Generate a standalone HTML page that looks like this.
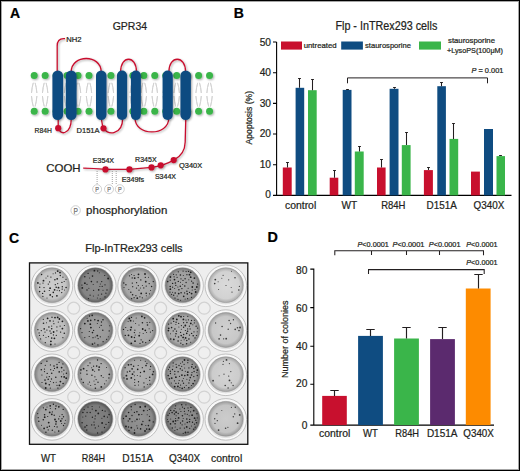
<!DOCTYPE html>
<html><head><meta charset="utf-8"><style>
html,body{margin:0;padding:0;background:#fff;}
body{width:520px;height:471px;overflow:hidden;}
svg{display:block;font-family:"Liberation Sans",sans-serif;}
text{stroke-width:0.22px;}
</style></head><body>
<svg width="520" height="471" viewBox="0 0 520 471">
<defs>
<filter id="sh" x="-20%" y="-20%" width="140%" height="140%"><feGaussianBlur in="SourceAlpha" stdDeviation="0.9"/><feOffset dx="0.6" dy="0.9" result="o"/><feComponentTransfer><feFuncA type="linear" slope="0.35"/></feComponentTransfer><feMerge><feMergeNode/><feMergeNode in="SourceGraphic"/></feMerge></filter>
<radialGradient id="dg00"><stop offset="0" stop-color="rgb(204,204,204)"/><stop offset="0.78" stop-color="rgb(196,196,196)"/><stop offset="1" stop-color="rgb(154,154,154)"/></radialGradient><radialGradient id="dg01"><stop offset="0" stop-color="rgb(140,140,140)"/><stop offset="0.78" stop-color="rgb(132,132,132)"/><stop offset="1" stop-color="rgb(90,90,90)"/></radialGradient><radialGradient id="dg02"><stop offset="0" stop-color="rgb(174,174,174)"/><stop offset="0.78" stop-color="rgb(166,166,166)"/><stop offset="1" stop-color="rgb(124,124,124)"/></radialGradient><radialGradient id="dg03"><stop offset="0" stop-color="rgb(166,166,166)"/><stop offset="0.78" stop-color="rgb(158,158,158)"/><stop offset="1" stop-color="rgb(116,116,116)"/></radialGradient><radialGradient id="dg04"><stop offset="0" stop-color="rgb(218,218,218)"/><stop offset="0.78" stop-color="rgb(210,210,210)"/><stop offset="1" stop-color="rgb(168,168,168)"/></radialGradient><radialGradient id="dg10"><stop offset="0" stop-color="rgb(196,196,196)"/><stop offset="0.78" stop-color="rgb(188,188,188)"/><stop offset="1" stop-color="rgb(146,146,146)"/></radialGradient><radialGradient id="dg11"><stop offset="0" stop-color="rgb(160,160,160)"/><stop offset="0.78" stop-color="rgb(152,152,152)"/><stop offset="1" stop-color="rgb(110,110,110)"/></radialGradient><radialGradient id="dg12"><stop offset="0" stop-color="rgb(174,174,174)"/><stop offset="0.78" stop-color="rgb(166,166,166)"/><stop offset="1" stop-color="rgb(124,124,124)"/></radialGradient><radialGradient id="dg13"><stop offset="0" stop-color="rgb(176,176,176)"/><stop offset="0.78" stop-color="rgb(168,168,168)"/><stop offset="1" stop-color="rgb(126,126,126)"/></radialGradient><radialGradient id="dg14"><stop offset="0" stop-color="rgb(208,208,208)"/><stop offset="0.78" stop-color="rgb(200,200,200)"/><stop offset="1" stop-color="rgb(158,158,158)"/></radialGradient><radialGradient id="dg20"><stop offset="0" stop-color="rgb(176,176,176)"/><stop offset="0.78" stop-color="rgb(168,168,168)"/><stop offset="1" stop-color="rgb(126,126,126)"/></radialGradient><radialGradient id="dg21"><stop offset="0" stop-color="rgb(178,178,178)"/><stop offset="0.78" stop-color="rgb(170,170,170)"/><stop offset="1" stop-color="rgb(128,128,128)"/></radialGradient><radialGradient id="dg22"><stop offset="0" stop-color="rgb(176,176,176)"/><stop offset="0.78" stop-color="rgb(168,168,168)"/><stop offset="1" stop-color="rgb(126,126,126)"/></radialGradient><radialGradient id="dg23"><stop offset="0" stop-color="rgb(162,162,162)"/><stop offset="0.78" stop-color="rgb(154,154,154)"/><stop offset="1" stop-color="rgb(112,112,112)"/></radialGradient><radialGradient id="dg24"><stop offset="0" stop-color="rgb(212,212,212)"/><stop offset="0.78" stop-color="rgb(204,204,204)"/><stop offset="1" stop-color="rgb(162,162,162)"/></radialGradient><radialGradient id="dg30"><stop offset="0" stop-color="rgb(168,168,168)"/><stop offset="0.78" stop-color="rgb(160,160,160)"/><stop offset="1" stop-color="rgb(118,118,118)"/></radialGradient><radialGradient id="dg31"><stop offset="0" stop-color="rgb(130,130,130)"/><stop offset="0.78" stop-color="rgb(122,122,122)"/><stop offset="1" stop-color="rgb(80,80,80)"/></radialGradient><radialGradient id="dg32"><stop offset="0" stop-color="rgb(146,146,146)"/><stop offset="0.78" stop-color="rgb(138,138,138)"/><stop offset="1" stop-color="rgb(96,96,96)"/></radialGradient><radialGradient id="dg33"><stop offset="0" stop-color="rgb(144,144,144)"/><stop offset="0.78" stop-color="rgb(136,136,136)"/><stop offset="1" stop-color="rgb(94,94,94)"/></radialGradient><radialGradient id="dg34"><stop offset="0" stop-color="rgb(204,204,204)"/><stop offset="0.78" stop-color="rgb(196,196,196)"/><stop offset="1" stop-color="rgb(154,154,154)"/></radialGradient><filter id="sh2" x="-50%" y="-20%" width="200%" height="140%"><feGaussianBlur in="SourceAlpha" stdDeviation="0.5"/><feOffset dx="0.4" dy="0.4"/><feComponentTransfer><feFuncA type="linear" slope="0.25"/></feComponentTransfer><feMerge><feMergeNode/><feMergeNode in="SourceGraphic"/></feMerge></filter><radialGradient id="wall"><stop offset="0.8" stop-color="#c8c8c8"/><stop offset="0.88" stop-color="#f4f4f4"/><stop offset="0.96" stop-color="#dcdcdc"/><stop offset="1" stop-color="#c0c0c0"/></radialGradient>
</defs>
<rect x="0" y="0" width="520" height="471" fill="#fff"/>
<text x="10.0" y="18.4" font-size="14" fill="#000" stroke="#000" stroke-width="0.5" font-weight="bold">A</text>
<text x="112.7" y="29.5" font-size="11.6" fill="#231f20" stroke="#231f20" stroke-width="0.13" textLength="34.4" lengthAdjust="spacingAndGlyphs">GPR34</text>
<g fill="none" stroke="#d2d2d2" stroke-width="1" filter="url(#sh2)"><path d="M33.30,82.8 Q32.00,87 31.50,93 M35.10,82.8 Q36.40,87 36.90,93 M31.50,96 Q32.00,102 33.30,106.5 M36.90,96 Q36.40,102 35.10,106.5"/><path d="M44.26,82.8 Q42.96,87 42.46,93 M46.06,82.8 Q47.36,87 47.86,93 M42.46,96 Q42.96,102 44.26,106.5 M47.86,96 Q47.36,102 46.06,106.5"/><path d="M55.22,82.8 Q53.92,87 53.42,93 M57.02,82.8 Q58.32,87 58.82,93 M53.42,96 Q53.92,102 55.22,106.5 M58.82,96 Q58.32,102 57.02,106.5"/><path d="M66.18,82.8 Q64.88,87 64.38,93 M67.98,82.8 Q69.28,87 69.78,93 M64.38,96 Q64.88,102 66.18,106.5 M69.78,96 Q69.28,102 67.98,106.5"/><path d="M77.14,82.8 Q75.84,87 75.34,93 M78.94,82.8 Q80.24,87 80.74,93 M75.34,96 Q75.84,102 77.14,106.5 M80.74,96 Q80.24,102 78.94,106.5"/><path d="M88.10,82.8 Q86.80,87 86.30,93 M89.90,82.8 Q91.20,87 91.70,93 M86.30,96 Q86.80,102 88.10,106.5 M91.70,96 Q91.20,102 89.90,106.5"/><path d="M99.06,82.8 Q97.76,87 97.26,93 M100.86,82.8 Q102.16,87 102.66,93 M97.26,96 Q97.76,102 99.06,106.5 M102.66,96 Q102.16,102 100.86,106.5"/><path d="M110.02,82.8 Q108.72,87 108.22,93 M111.82,82.8 Q113.12,87 113.62,93 M108.22,96 Q108.72,102 110.02,106.5 M113.62,96 Q113.12,102 111.82,106.5"/><path d="M120.98,82.8 Q119.68,87 119.18,93 M122.78,82.8 Q124.08,87 124.58,93 M119.18,96 Q119.68,102 120.98,106.5 M124.58,96 Q124.08,102 122.78,106.5"/><path d="M131.94,82.8 Q130.64,87 130.14,93 M133.74,82.8 Q135.04,87 135.54,93 M130.14,96 Q130.64,102 131.94,106.5 M135.54,96 Q135.04,102 133.74,106.5"/><path d="M142.90,82.8 Q141.60,87 141.10,93 M144.70,82.8 Q146.00,87 146.50,93 M141.10,96 Q141.60,102 142.90,106.5 M146.50,96 Q146.00,102 144.70,106.5"/><path d="M153.86,82.8 Q152.56,87 152.06,93 M155.66,82.8 Q156.96,87 157.46,93 M152.06,96 Q152.56,102 153.86,106.5 M157.46,96 Q156.96,102 155.66,106.5"/><path d="M164.82,82.8 Q163.52,87 163.02,93 M166.62,82.8 Q167.92,87 168.42,93 M163.02,96 Q163.52,102 164.82,106.5 M168.42,96 Q167.92,102 166.62,106.5"/><path d="M175.78,82.8 Q174.48,87 173.98,93 M177.58,82.8 Q178.88,87 179.38,93 M173.98,96 Q174.48,102 175.78,106.5 M179.38,96 Q178.88,102 177.58,106.5"/><path d="M186.74,82.8 Q185.44,87 184.94,93 M188.54,82.8 Q189.84,87 190.34,93 M184.94,96 Q185.44,102 186.74,106.5 M190.34,96 Q189.84,102 188.54,106.5"/><path d="M197.70,82.8 Q196.40,87 195.90,93 M199.50,82.8 Q200.80,87 201.30,93 M195.90,96 Q196.40,102 197.70,106.5 M201.30,96 Q200.80,102 199.50,106.5"/><path d="M208.66,82.8 Q207.36,87 206.86,93 M210.46,82.8 Q211.76,87 212.26,93 M206.86,96 Q207.36,102 208.66,106.5 M212.26,96 Q211.76,102 210.46,106.5"/></g>
<g fill="#3ab54a" filter="url(#sh)"><circle cx="34.20" cy="75.6" r="3.5"/><circle cx="34.20" cy="111.3" r="3.5"/><circle cx="45.16" cy="75.6" r="3.5"/><circle cx="45.16" cy="111.3" r="3.5"/><circle cx="56.12" cy="75.6" r="3.5"/><circle cx="56.12" cy="111.3" r="3.5"/><circle cx="67.08" cy="75.6" r="3.5"/><circle cx="67.08" cy="111.3" r="3.5"/><circle cx="78.04" cy="75.6" r="3.5"/><circle cx="78.04" cy="111.3" r="3.5"/><circle cx="89.00" cy="75.6" r="3.5"/><circle cx="89.00" cy="111.3" r="3.5"/><circle cx="99.96" cy="75.6" r="3.5"/><circle cx="99.96" cy="111.3" r="3.5"/><circle cx="110.92" cy="75.6" r="3.5"/><circle cx="110.92" cy="111.3" r="3.5"/><circle cx="121.88" cy="75.6" r="3.5"/><circle cx="121.88" cy="111.3" r="3.5"/><circle cx="132.84" cy="75.6" r="3.5"/><circle cx="132.84" cy="111.3" r="3.5"/><circle cx="143.80" cy="75.6" r="3.5"/><circle cx="143.80" cy="111.3" r="3.5"/><circle cx="154.76" cy="75.6" r="3.5"/><circle cx="154.76" cy="111.3" r="3.5"/><circle cx="165.72" cy="75.6" r="3.5"/><circle cx="165.72" cy="111.3" r="3.5"/><circle cx="176.68" cy="75.6" r="3.5"/><circle cx="176.68" cy="111.3" r="3.5"/><circle cx="187.64" cy="75.6" r="3.5"/><circle cx="187.64" cy="111.3" r="3.5"/><circle cx="198.60" cy="75.6" r="3.5"/><circle cx="198.60" cy="111.3" r="3.5"/><circle cx="209.56" cy="75.6" r="3.5"/><circle cx="209.56" cy="111.3" r="3.5"/></g>
<g fill="none" stroke="#c8102e" stroke-width="1.3" filter="url(#sh)"><path d="M57.2,72 L57.2,46 Q57.2,38.6 63.6,38.6 L65,38.6"/><path d="M71.2,72 C71.2,54 101.2,54 101.2,72"/><path d="M120.6,72 C120.6,55 136.5,55 136.5,72"/><path d="M168.9,72 C168.9,55 185.6,55 185.6,72"/><path d="M58.2,118 L58.2,126 C58.2,136 71.3,136 71.3,118"/><path d="M101.2,118 L102.8,127 C106,136 122.7,136 122.7,118"/><path d="M135,118 C135,136.5 168.8,136.5 168.8,118"/><path d="M185.8,118 L185.2,142 C185,152 180,157 173.7,160.1 C166,164.5 158,166.6 151.5,167.4 L129.4,169.4 L105.4,169.4 C98,168.8 90,168.3 83.2,168.2"/></g>
<g fill="#0f4c81" filter="url(#sh)"><rect x="52.4" y="70.5" width="10.70" height="49.6" rx="5.35"/><rect x="65.8" y="70.5" width="10.80" height="49.6" rx="5.40"/><rect x="96" y="70.5" width="10.50" height="49.6" rx="5.25"/><rect x="116.9" y="70.5" width="10.20" height="49.6" rx="5.10"/><rect x="130.9" y="70.5" width="10.00" height="49.6" rx="5.00"/><rect x="162.6" y="70.5" width="10.20" height="49.6" rx="5.10"/><rect x="180.4" y="70.5" width="10.50" height="49.6" rx="5.25"/></g>
<g fill="#c8102e" filter="url(#sh)"><circle cx="58.2" cy="128.2" r="3.1"/><circle cx="103.5" cy="128.3" r="3.1"/><circle cx="105.4" cy="169.4" r="3.1"/><circle cx="129.4" cy="169.4" r="3.1"/><circle cx="151.5" cy="167.4" r="3.1"/><circle cx="160.7" cy="165.3" r="3.1"/><circle cx="173.7" cy="160.1" r="3.1"/></g>
<text x="66.2" y="41.5" font-size="7.3" fill="#231f20" stroke="#231f20" stroke-width="0.04" textLength="15.3" lengthAdjust="spacingAndGlyphs">NH2</text>
<text x="34.6" y="132.7" font-size="7.9" fill="#231f20" stroke="#231f20" stroke-width="0.04" textLength="17.3" lengthAdjust="spacingAndGlyphs">R84H</text>
<text x="76.5" y="132.7" font-size="7.9" fill="#231f20" stroke="#231f20" stroke-width="0.04" textLength="23.1" lengthAdjust="spacingAndGlyphs">D151A</text>
<text x="46.3" y="172.2" font-size="11" fill="#231f20" stroke="#231f20" stroke-width="0.13" textLength="34.3" lengthAdjust="spacingAndGlyphs">COOH</text>
<text x="92.8" y="163.2" font-size="7" fill="#231f20" stroke="#231f20" stroke-width="0.04" textLength="21.3" lengthAdjust="spacingAndGlyphs">E354X</text>
<text x="121.7" y="182.1" font-size="7" fill="#231f20" stroke="#231f20" stroke-width="0.04" textLength="22.4" lengthAdjust="spacingAndGlyphs">E349fs</text>
<text x="135.1" y="161.6" font-size="7" fill="#231f20" stroke="#231f20" stroke-width="0.04" textLength="21.5" lengthAdjust="spacingAndGlyphs">R345X</text>
<text x="154.9" y="178.7" font-size="7" fill="#231f20" stroke="#231f20" stroke-width="0.04" textLength="21.1" lengthAdjust="spacingAndGlyphs">S344X</text>
<text x="179.1" y="167.9" font-size="7" fill="#231f20" stroke="#231f20" stroke-width="0.04" textLength="23.1" lengthAdjust="spacingAndGlyphs">Q340X</text>
<line x1="97.1" y1="171" x2="97.1" y2="184" stroke="#8a8a8a" stroke-width="0.8" stroke-dasharray="1,1"/>
<line x1="112.3" y1="171" x2="112.3" y2="184" stroke="#8a8a8a" stroke-width="0.8" stroke-dasharray="1,1"/>
<line x1="116.2" y1="171" x2="116.2" y2="184" stroke="#8a8a8a" stroke-width="0.8" stroke-dasharray="1,1"/>
<circle cx="97.1" cy="189.2" r="4.5" fill="#fff" stroke="#cccccc" stroke-width="0.9"/>
<text x="95.3" y="191.9" font-size="7.2" fill="#6e6e6e" stroke="#6e6e6e" stroke-width="0.05" textLength="3.7" lengthAdjust="spacingAndGlyphs">P</text>
<circle cx="109" cy="189.2" r="4.5" fill="#fff" stroke="#cccccc" stroke-width="0.9"/>
<text x="107.2" y="191.9" font-size="7.2" fill="#6e6e6e" stroke="#6e6e6e" stroke-width="0.05" textLength="3.7" lengthAdjust="spacingAndGlyphs">P</text>
<circle cx="119.8" cy="189.2" r="4.5" fill="#fff" stroke="#cccccc" stroke-width="0.9"/>
<text x="118.0" y="191.9" font-size="7.2" fill="#6e6e6e" stroke="#6e6e6e" stroke-width="0.05" textLength="3.7" lengthAdjust="spacingAndGlyphs">P</text>
<circle cx="75.6" cy="210.4" r="4.7" fill="#fff" stroke="#cfcfcf" stroke-width="1"/>
<text x="73.4" y="213.7" font-size="8.4" fill="#6e6e6e" stroke="#6e6e6e" stroke-width="0.05" textLength="4.4" lengthAdjust="spacingAndGlyphs">P</text>
<text x="86.1" y="213.8" font-size="11.2" fill="#231f20" stroke="#231f20" stroke-width="0.13" textLength="81.2" lengthAdjust="spacingAndGlyphs">phosphorylation</text>
<text x="233.8" y="18.1" font-size="14" fill="#000" stroke="#000" stroke-width="0.5" font-weight="bold">B</text>
<text x="335.4" y="30" font-size="12" fill="#231f20" stroke="#231f20" stroke-width="0.13" textLength="101.9" lengthAdjust="spacingAndGlyphs">Flp - InTRex293 cells</text>
<rect x="281" y="41.5" width="21" height="8.1" fill="#c8102e"/>
<text x="303.7" y="47.8" font-size="7.6" fill="#231f20" stroke="#231f20" stroke-width="0.04" textLength="33.0" lengthAdjust="spacingAndGlyphs">untreated</text>
<rect x="341.2" y="41.5" width="21.7" height="8.1" fill="#0f4c81"/>
<text x="365" y="47.8" font-size="7.6" fill="#231f20" stroke="#231f20" stroke-width="0.04" textLength="46" lengthAdjust="spacingAndGlyphs">staurosporine</text>
<rect x="419" y="41.5" width="22" height="8.1" fill="#3ab54a"/>
<text x="448" y="43.4" font-size="7.6" fill="#231f20" stroke="#231f20" stroke-width="0.04" textLength="47" lengthAdjust="spacingAndGlyphs">staurosporine</text>
<text x="447" y="52.6" font-size="7.6" fill="#231f20" stroke="#231f20" stroke-width="0.04" textLength="56" lengthAdjust="spacingAndGlyphs">+LysoPS(100μM)</text>
<path d="M276.6,42 L276.6,195.4 L511.5,195.4 M273,195.40 L276.6,195.40 M273,164.72 L276.6,164.72 M273,134.04 L276.6,134.04 M273,103.36 L276.6,103.36 M273,72.68 L276.6,72.68 M273,42.00 L276.6,42.00" fill="none" stroke="#000" stroke-width="1.1"/>
<text x="271.0" y="198.2" font-size="10.2" fill="#231f20" stroke="#231f20" stroke-width="0.13" text-anchor="end">0</text>
<text x="271.0" y="167.7" font-size="10.2" fill="#231f20" stroke="#231f20" stroke-width="0.13" text-anchor="end">10</text>
<text x="271.0" y="137.4" font-size="10.2" fill="#231f20" stroke="#231f20" stroke-width="0.13" text-anchor="end">20</text>
<text x="271.0" y="106.9" font-size="10.2" fill="#231f20" stroke="#231f20" stroke-width="0.13" text-anchor="end">30</text>
<text x="271.0" y="76.3" font-size="10.2" fill="#231f20" stroke="#231f20" stroke-width="0.13" text-anchor="end">40</text>
<text x="271.0" y="45.6" font-size="10.2" fill="#231f20" stroke="#231f20" stroke-width="0.13" text-anchor="end">50</text>
<text transform="translate(251.6,117.7) rotate(-90)" x="0" y="0" font-size="9.6" fill="#231f20" stroke="#231f20" stroke-width="0.12" text-anchor="middle" textLength="53.4" lengthAdjust="spacingAndGlyphs">Apoptosis (%)</text>
<rect x="282.8" y="167.5" width="8.90" height="27.90" fill="#c8102e"/>
<path d="M287.50,167.5 L287.50,162.5 M286.10,162.5 L288.90,162.5" stroke="#231f20" stroke-width="1.05" fill="none"/>
<rect x="295.6" y="87.8" width="8.60" height="107.60" fill="#0f4c81"/>
<path d="M299.50,87.8 L299.50,78.5 M298.10,78.5 L300.90,78.5" stroke="#231f20" stroke-width="1.05" fill="none"/>
<rect x="308" y="90.2" width="8.70" height="105.20" fill="#3ab54a"/>
<path d="M312.50,90.2 L312.50,79.5 M311.10,79.5 L313.90,79.5" stroke="#231f20" stroke-width="1.05" fill="none"/>
<rect x="329.7" y="177.7" width="8.60" height="17.70" fill="#c8102e"/>
<path d="M334.50,177.7 L334.50,170.5 M333.10,170.5 L335.90,170.5" stroke="#231f20" stroke-width="1.05" fill="none"/>
<rect x="342.7" y="89.9" width="8.80" height="105.50" fill="#0f4c81"/>
<path d="M347.50,89.9 L347.50,89.5 M346.10,89.5 L348.90,89.5" stroke="#231f20" stroke-width="1.05" fill="none"/>
<rect x="354.8" y="151.5" width="8.90" height="43.90" fill="#3ab54a"/>
<path d="M359.50,151.5 L359.50,146.5 M358.10,146.5 L360.90,146.5" stroke="#231f20" stroke-width="1.05" fill="none"/>
<rect x="377" y="167.5" width="8.60" height="27.90" fill="#c8102e"/>
<path d="M381.50,167.5 L381.50,159.5 M380.10,159.5 L382.90,159.5" stroke="#231f20" stroke-width="1.05" fill="none"/>
<rect x="389.6" y="88.8" width="8.90" height="106.60" fill="#0f4c81"/>
<path d="M394.50,88.8 L394.50,87.5 M393.10,87.5 L395.90,87.5" stroke="#231f20" stroke-width="1.05" fill="none"/>
<rect x="401.8" y="145.1" width="8.80" height="50.30" fill="#3ab54a"/>
<path d="M406.50,145.1 L406.50,132.5 M405.10,132.5 L407.90,132.5" stroke="#231f20" stroke-width="1.05" fill="none"/>
<rect x="423.9" y="170.1" width="9.00" height="25.30" fill="#c8102e"/>
<path d="M428.50,170.1 L428.50,167.5 M427.10,167.5 L429.90,167.5" stroke="#231f20" stroke-width="1.05" fill="none"/>
<rect x="437.3" y="86.2" width="8.60" height="109.20" fill="#0f4c81"/>
<path d="M441.50,86.2 L441.50,82.5 M440.10,82.5 L442.90,82.5" stroke="#231f20" stroke-width="1.05" fill="none"/>
<rect x="449.5" y="138.9" width="8.70" height="56.50" fill="#3ab54a"/>
<path d="M453.50,138.9 L453.50,123.5 M452.10,123.5 L454.90,123.5" stroke="#231f20" stroke-width="1.05" fill="none"/>
<rect x="471" y="171.6" width="8.90" height="23.80" fill="#c8102e"/>
<rect x="484" y="129" width="9.00" height="66.40" fill="#0f4c81"/>
<rect x="496.5" y="156.1" width="8.50" height="39.30" fill="#3ab54a"/>
<path d="M500.50,156.1 L500.50,155.5 M499.10,155.5 L501.90,155.5" stroke="#231f20" stroke-width="1.05" fill="none"/>
<path d="M347.5,83.3 L347.5,77.9 L487.5,77.9 L487.5,83.3" fill="none" stroke="#231f20" stroke-width="1"/>
<text x="471.5" y="72.5" font-size="7.2" fill="#231f20" stroke="#231f20" stroke-width="0.04" textLength="31.9" lengthAdjust="spacingAndGlyphs"><tspan font-style="italic">P</tspan> = 0.001</text>
<text x="285" y="209.4" font-size="10.2" fill="#231f20" stroke="#231f20" stroke-width="0.13" textLength="31.2" lengthAdjust="spacingAndGlyphs">control</text>
<text x="341.5" y="209.4" font-size="10.2" fill="#231f20" stroke="#231f20" stroke-width="0.13" textLength="15.7" lengthAdjust="spacingAndGlyphs">WT</text>
<text x="381.2" y="209.4" font-size="10.2" fill="#231f20" stroke="#231f20" stroke-width="0.13" textLength="24.3" lengthAdjust="spacingAndGlyphs">R84H</text>
<text x="426.6" y="209.4" font-size="10.2" fill="#231f20" stroke="#231f20" stroke-width="0.13" textLength="30.3" lengthAdjust="spacingAndGlyphs">D151A</text>
<text x="473.5" y="209.4" font-size="10.2" fill="#231f20" stroke="#231f20" stroke-width="0.13" textLength="30.8" lengthAdjust="spacingAndGlyphs">Q340X</text>
<text x="8.9" y="242.6" font-size="14" fill="#000" stroke="#000" stroke-width="0.5" font-weight="bold">C</text>
<text x="85.3" y="252.4" font-size="10.5" fill="#231f20" stroke="#231f20" stroke-width="0.13" textLength="97.3" lengthAdjust="spacingAndGlyphs">Flp-InTRex293 cells</text>
<text x="41" y="462.0" font-size="10.2" fill="#231f20" stroke="#231f20" stroke-width="0.13" textLength="15" lengthAdjust="spacingAndGlyphs">WT</text>
<text x="81.8" y="462.0" font-size="10.2" fill="#231f20" stroke="#231f20" stroke-width="0.13" textLength="23.3" lengthAdjust="spacingAndGlyphs">R84H</text>
<text x="122.3" y="462.0" font-size="10.2" fill="#231f20" stroke="#231f20" stroke-width="0.13" textLength="31.1" lengthAdjust="spacingAndGlyphs">D151A</text>
<text x="169" y="462.0" font-size="10.2" fill="#231f20" stroke="#231f20" stroke-width="0.13" textLength="31.2" lengthAdjust="spacingAndGlyphs">Q340X</text>
<text x="211" y="462.0" font-size="10.2" fill="#231f20" stroke="#231f20" stroke-width="0.13" textLength="31.2" lengthAdjust="spacingAndGlyphs">control</text>
<text x="267.6" y="242.3" font-size="14.4" fill="#000" stroke="#000" stroke-width="0.5" font-weight="bold">D</text>
<path d="M313.8,268.6 L313.8,425.1 L494,425.1 M310.3,425.10 L313.8,425.10 M310.3,384.30 L313.8,384.30 M310.3,346.20 L313.8,346.20 M310.3,307.60 L313.8,307.60 M310.3,269.10 L313.8,269.10" fill="none" stroke="#000" stroke-width="1.1"/>
<text x="307.4" y="429.0" font-size="10.2" fill="#231f20" stroke="#231f20" stroke-width="0.13" text-anchor="end">0</text>
<text x="307.4" y="387.3" font-size="10.2" fill="#231f20" stroke="#231f20" stroke-width="0.13" text-anchor="end">20</text>
<text x="307.4" y="349.6" font-size="10.2" fill="#231f20" stroke="#231f20" stroke-width="0.13" text-anchor="end">40</text>
<text x="307.4" y="312.0" font-size="10.2" fill="#231f20" stroke="#231f20" stroke-width="0.13" text-anchor="end">60</text>
<text x="307.4" y="274.0" font-size="10.2" fill="#231f20" stroke="#231f20" stroke-width="0.13" text-anchor="end">80</text>
<text transform="translate(287.6,339.3) rotate(-90)" x="0" y="0" font-size="9.4" fill="#231f20" stroke="#231f20" stroke-width="0.12" text-anchor="middle" textLength="77.5" lengthAdjust="spacingAndGlyphs">Number of colonies</text>
<rect x="322.2" y="395.9" width="24.60" height="29.20" fill="#c8102e"/>
<path d="M334.50,395.9 L334.50,390.5 M330.30,390.5 L338.70,390.5" stroke="#231f20" stroke-width="1.15" fill="none"/>
<rect x="358.1" y="335.9" width="24.80" height="89.20" fill="#0f4c81"/>
<path d="M370.50,335.9 L370.50,329.5 M366.30,329.5 L374.70,329.5" stroke="#231f20" stroke-width="1.15" fill="none"/>
<rect x="394.1" y="338.5" width="24.80" height="86.60" fill="#3ab54a"/>
<path d="M406.50,338.5 L406.50,327.5 M402.30,327.5 L410.70,327.5" stroke="#231f20" stroke-width="1.15" fill="none"/>
<rect x="430.1" y="339.1" width="24.80" height="86.00" fill="#5b2a6e"/>
<path d="M442.50,339.1 L442.50,327.5 M438.30,327.5 L446.70,327.5" stroke="#231f20" stroke-width="1.15" fill="none"/>
<rect x="465.8" y="288.5" width="24.80" height="136.60" fill="#fd8b00"/>
<path d="M478.50,288.5 L478.50,274.5 M474.30,274.5 L482.70,274.5" stroke="#231f20" stroke-width="1.15" fill="none"/>
<path d="M334.8,255.3 L334.8,250.7 L483.5,250.7 L483.5,255.3 M371.5,250.7 L371.5,255 M406.5,250.7 L406.5,255 M439.5,250.7 L439.5,255" fill="none" stroke="#231f20" stroke-width="1.05"/>
<path d="M368.5,274 L368.5,269.6 L484.2,269.6 L484.2,274" fill="none" stroke="#231f20" stroke-width="1.05"/>
<text x="357.5" y="247" font-size="7.2" fill="#231f20" stroke="#231f20" stroke-width="0.04" textLength="31.3" lengthAdjust="spacingAndGlyphs"><tspan font-style="italic">P</tspan>&lt;0.0001</text>
<text x="392.5" y="247" font-size="7.2" fill="#231f20" stroke="#231f20" stroke-width="0.04" textLength="32.0" lengthAdjust="spacingAndGlyphs"><tspan font-style="italic">P</tspan>&lt;0.0001</text>
<text x="428.8" y="247" font-size="7.2" fill="#231f20" stroke="#231f20" stroke-width="0.04" textLength="31.7" lengthAdjust="spacingAndGlyphs"><tspan font-style="italic">P</tspan>&lt;0.0001</text>
<text x="466.3" y="247" font-size="7.2" fill="#231f20" stroke="#231f20" stroke-width="0.04" textLength="31.2" lengthAdjust="spacingAndGlyphs"><tspan font-style="italic">P</tspan>&lt;0.0001</text>
<text x="466.3" y="264.5" font-size="7.2" fill="#231f20" stroke="#231f20" stroke-width="0.04" textLength="31.2" lengthAdjust="spacingAndGlyphs"><tspan font-style="italic">P</tspan>&lt;0.0001</text>
<text x="319" y="437.1" font-size="10.2" fill="#231f20" stroke="#231f20" stroke-width="0.13" textLength="31.3" lengthAdjust="spacingAndGlyphs">control</text>
<text x="362.9" y="437.1" font-size="10.2" fill="#231f20" stroke="#231f20" stroke-width="0.13" textLength="14.9" lengthAdjust="spacingAndGlyphs">WT</text>
<text x="395.3" y="437.1" font-size="10.2" fill="#231f20" stroke="#231f20" stroke-width="0.13" textLength="23.8" lengthAdjust="spacingAndGlyphs">R84H</text>
<text x="426.9" y="437.1" font-size="10.2" fill="#231f20" stroke="#231f20" stroke-width="0.13" textLength="30.6" lengthAdjust="spacingAndGlyphs">D151A</text>
<text x="463.3" y="437.1" font-size="10.2" fill="#231f20" stroke="#231f20" stroke-width="0.13" textLength="30.6" lengthAdjust="spacingAndGlyphs">Q340X</text>
<g><rect x="29.5" y="262.9" width="218.3" height="181.4" fill="#eeeeee" stroke="#111" stroke-width="1.3"/><circle cx="73.7" cy="308.2" r="6" fill="#efefef" stroke="#d2d2d2" stroke-width="1.2"/><circle cx="116.9" cy="308.2" r="6" fill="#efefef" stroke="#d2d2d2" stroke-width="1.2"/><circle cx="160.6" cy="308.2" r="6" fill="#efefef" stroke="#d2d2d2" stroke-width="1.2"/><circle cx="204.2" cy="308.2" r="6" fill="#efefef" stroke="#d2d2d2" stroke-width="1.2"/><circle cx="73.7" cy="352.7" r="6" fill="#efefef" stroke="#d2d2d2" stroke-width="1.2"/><circle cx="116.9" cy="352.7" r="6" fill="#efefef" stroke="#d2d2d2" stroke-width="1.2"/><circle cx="160.6" cy="352.7" r="6" fill="#efefef" stroke="#d2d2d2" stroke-width="1.2"/><circle cx="204.2" cy="352.7" r="6" fill="#efefef" stroke="#d2d2d2" stroke-width="1.2"/><circle cx="73.7" cy="397.1" r="6" fill="#efefef" stroke="#d2d2d2" stroke-width="1.2"/><circle cx="116.9" cy="397.1" r="6" fill="#efefef" stroke="#d2d2d2" stroke-width="1.2"/><circle cx="160.6" cy="397.1" r="6" fill="#efefef" stroke="#d2d2d2" stroke-width="1.2"/><circle cx="204.2" cy="397.1" r="6" fill="#efefef" stroke="#d2d2d2" stroke-width="1.2"/><circle cx="52.0" cy="285.8" r="20.8" fill="#f8f8f8" stroke="#b4b4b4" stroke-width="0.8"/><circle cx="52.0" cy="286.1" r="18.9" fill="#e2e2e2" stroke="#fcfcfc" stroke-width="0.8"/><circle cx="52.0" cy="285.2" r="17.4" fill="url(#dg00)" stroke="#8c8c8c" stroke-width="0.5"/><g fill="#1e1e1e"><circle cx="49.3" cy="290.5" r="0.6"/><circle cx="49.6" cy="281.9" r="0.65"/><circle cx="43.0" cy="283.1" r="0.6"/><circle cx="62.2" cy="289.1" r="0.7"/><circle cx="56.2" cy="287.2" r="0.8"/><circle cx="39.6" cy="291.6" r="0.8"/><circle cx="57.1" cy="290.3" r="0.5"/><circle cx="41.6" cy="274.5" r="0.7"/><circle cx="43.5" cy="280.7" r="0.9"/><circle cx="55.3" cy="284.7" r="0.65"/><circle cx="57.2" cy="278.8" r="0.9"/><circle cx="47.0" cy="298.1" r="0.5"/><circle cx="56.9" cy="295.8" r="0.9"/><circle cx="46.0" cy="278.0" r="0.5"/><circle cx="48.3" cy="284.1" r="0.7"/><circle cx="58.5" cy="287.7" r="0.9"/><circle cx="47.8" cy="276.1" r="0.6"/><circle cx="44.0" cy="287.6" r="0.7"/><circle cx="55.5" cy="272.9" r="0.6"/><circle cx="52.4" cy="296.8" r="0.7"/><circle cx="37.9" cy="282.9" r="0.9"/><circle cx="50.9" cy="277.1" r="0.65"/><circle cx="53.1" cy="273.7" r="0.5"/><circle cx="60.0" cy="272.6" r="0.9"/><circle cx="39.7" cy="287.2" r="0.7"/><circle cx="42.6" cy="293.4" r="0.7"/><circle cx="62.3" cy="286.7" r="0.7"/><circle cx="54.6" cy="289.8" r="0.9"/><circle cx="64.5" cy="290.1" r="0.5"/><circle cx="50.2" cy="294.9" r="0.9"/><circle cx="42.9" cy="296.4" r="0.6"/><circle cx="57.7" cy="283.6" r="0.6"/><circle cx="64.2" cy="281.5" r="0.6"/><circle cx="40.0" cy="284.0" r="0.5"/><circle cx="62.9" cy="277.2" r="0.6"/><circle cx="44.5" cy="291.2" r="0.8"/><circle cx="61.7" cy="292.6" r="0.7"/><circle cx="50.1" cy="288.2" r="0.9"/><circle cx="59.4" cy="290.7" r="0.6"/><circle cx="66.1" cy="287.5" r="0.8"/><circle cx="54.9" cy="279.8" r="0.8"/><circle cx="60.3" cy="275.5" r="0.7"/><circle cx="57.7" cy="271.1" r="0.9"/><circle cx="61.9" cy="282.4" r="0.65"/><circle cx="66.0" cy="279.3" r="0.6"/><circle cx="53.3" cy="292.4" r="0.8"/></g><circle cx="95.3" cy="285.8" r="20.8" fill="#f8f8f8" stroke="#b4b4b4" stroke-width="0.8"/><circle cx="95.3" cy="286.1" r="18.9" fill="#e2e2e2" stroke="#fcfcfc" stroke-width="0.8"/><circle cx="95.3" cy="285.2" r="17.4" fill="url(#dg01)" stroke="#8c8c8c" stroke-width="0.5"/><g fill="#1e1e1e"><circle cx="93.2" cy="284.5" r="0.5"/><circle cx="99.3" cy="272.8" r="0.5"/><circle cx="105.9" cy="293.2" r="0.65"/><circle cx="105.0" cy="296.9" r="0.65"/><circle cx="100.2" cy="298.7" r="0.5"/><circle cx="102.2" cy="286.4" r="0.6"/><circle cx="81.9" cy="285.1" r="0.65"/><circle cx="90.1" cy="295.2" r="0.6"/><circle cx="97.2" cy="281.9" r="0.7"/><circle cx="94.4" cy="270.7" r="0.9"/><circle cx="88.1" cy="273.4" r="0.65"/><circle cx="101.6" cy="294.1" r="0.7"/><circle cx="104.7" cy="275.5" r="0.6"/><circle cx="84.8" cy="276.7" r="0.8"/><circle cx="98.7" cy="289.9" r="0.8"/><circle cx="91.4" cy="281.6" r="0.8"/><circle cx="107.0" cy="290.0" r="0.7"/><circle cx="84.9" cy="283.2" r="0.9"/><circle cx="97.7" cy="271.0" r="0.65"/><circle cx="99.9" cy="286.5" r="0.5"/><circle cx="88.4" cy="298.6" r="0.65"/><circle cx="93.4" cy="295.9" r="0.5"/><circle cx="108.1" cy="278.5" r="0.9"/><circle cx="98.3" cy="295.0" r="0.6"/><circle cx="87.0" cy="290.0" r="0.7"/><circle cx="88.9" cy="288.3" r="0.5"/><circle cx="93.6" cy="290.3" r="0.65"/><circle cx="89.6" cy="277.9" r="0.5"/><circle cx="82.3" cy="287.9" r="0.9"/><circle cx="97.4" cy="297.9" r="0.5"/><circle cx="105.0" cy="284.8" r="0.65"/><circle cx="103.0" cy="290.3" r="0.5"/><circle cx="92.5" cy="276.1" r="0.8"/><circle cx="87.0" cy="284.3" r="0.6"/><circle cx="100.3" cy="283.9" r="0.5"/><circle cx="101.7" cy="281.6" r="0.65"/></g><circle cx="138.6" cy="285.8" r="20.8" fill="#f8f8f8" stroke="#b4b4b4" stroke-width="0.8"/><circle cx="138.6" cy="286.1" r="18.9" fill="#e2e2e2" stroke="#fcfcfc" stroke-width="0.8"/><circle cx="138.6" cy="285.2" r="17.4" fill="url(#dg02)" stroke="#8c8c8c" stroke-width="0.5"/><g fill="#1e1e1e"><circle cx="145.3" cy="277.4" r="0.6"/><circle cx="132.6" cy="294.8" r="0.8"/><circle cx="145.7" cy="281.7" r="0.9"/><circle cx="146.2" cy="293.3" r="0.8"/><circle cx="139.0" cy="290.2" r="0.65"/><circle cx="140.4" cy="288.1" r="0.5"/><circle cx="141.2" cy="293.4" r="0.9"/><circle cx="134.1" cy="297.7" r="0.65"/><circle cx="135.9" cy="295.7" r="0.6"/><circle cx="146.2" cy="286.1" r="0.7"/><circle cx="151.6" cy="286.5" r="0.7"/><circle cx="132.3" cy="283.1" r="0.7"/><circle cx="124.0" cy="287.5" r="0.5"/><circle cx="149.5" cy="293.8" r="0.6"/><circle cx="128.8" cy="289.6" r="0.5"/><circle cx="125.9" cy="284.7" r="0.7"/><circle cx="145.0" cy="274.0" r="0.9"/><circle cx="132.2" cy="277.9" r="0.7"/><circle cx="136.5" cy="288.1" r="0.7"/><circle cx="138.2" cy="277.5" r="0.65"/><circle cx="134.7" cy="278.1" r="0.9"/><circle cx="132.7" cy="286.7" r="0.6"/><circle cx="153.3" cy="281.6" r="0.7"/><circle cx="138.3" cy="285.6" r="0.65"/><circle cx="130.8" cy="292.3" r="0.7"/><circle cx="139.9" cy="296.8" r="0.65"/><circle cx="131.5" cy="274.4" r="0.5"/><circle cx="131.6" cy="298.7" r="0.65"/><circle cx="146.3" cy="295.7" r="0.5"/><circle cx="136.6" cy="282.7" r="0.65"/><circle cx="129.5" cy="275.8" r="0.65"/><circle cx="140.8" cy="279.9" r="0.7"/><circle cx="148.5" cy="277.3" r="0.5"/><circle cx="134.1" cy="275.5" r="0.6"/><circle cx="138.5" cy="274.3" r="0.9"/><circle cx="150.6" cy="290.5" r="0.5"/><circle cx="137.3" cy="298.2" r="0.9"/><circle cx="142.3" cy="297.8" r="0.65"/><circle cx="149.2" cy="283.6" r="0.65"/><circle cx="143.8" cy="287.9" r="0.65"/><circle cx="142.4" cy="285.5" r="0.5"/><circle cx="123.8" cy="283.0" r="0.7"/></g><circle cx="182.6" cy="285.8" r="20.8" fill="#f8f8f8" stroke="#b4b4b4" stroke-width="0.8"/><circle cx="182.6" cy="286.1" r="18.9" fill="#e2e2e2" stroke="#fcfcfc" stroke-width="0.8"/><circle cx="182.6" cy="285.2" r="17.4" fill="url(#dg03)" stroke="#8c8c8c" stroke-width="0.5"/><g fill="#1e1e1e"><circle cx="171.6" cy="294.3" r="0.65"/><circle cx="195.7" cy="292.0" r="0.9"/><circle cx="183.1" cy="271.1" r="0.65"/><circle cx="181.9" cy="288.6" r="0.7"/><circle cx="176.2" cy="274.8" r="0.6"/><circle cx="191.5" cy="297.3" r="0.65"/><circle cx="174.7" cy="288.6" r="0.5"/><circle cx="180.3" cy="286.3" r="0.8"/><circle cx="183.3" cy="275.5" r="0.5"/><circle cx="190.7" cy="277.2" r="0.9"/><circle cx="191.6" cy="281.2" r="0.65"/><circle cx="178.3" cy="281.4" r="0.7"/><circle cx="187.3" cy="293.9" r="0.8"/><circle cx="181.1" cy="292.8" r="0.8"/><circle cx="170.2" cy="286.5" r="0.8"/><circle cx="191.6" cy="293.6" r="0.9"/><circle cx="192.2" cy="290.1" r="0.5"/><circle cx="186.9" cy="274.7" r="0.65"/><circle cx="175.4" cy="283.0" r="0.8"/><circle cx="178.7" cy="293.6" r="0.9"/><circle cx="185.1" cy="278.8" r="0.7"/><circle cx="196.8" cy="287.0" r="0.9"/><circle cx="184.6" cy="292.9" r="0.65"/><circle cx="186.1" cy="271.6" r="0.65"/><circle cx="188.5" cy="271.4" r="0.7"/><circle cx="189.6" cy="292.4" r="0.65"/><circle cx="193.1" cy="283.1" r="0.8"/><circle cx="172.6" cy="287.2" r="0.6"/><circle cx="178.3" cy="271.8" r="0.65"/><circle cx="186.1" cy="282.5" r="0.65"/><circle cx="182.7" cy="284.6" r="0.5"/><circle cx="172.6" cy="283.4" r="0.7"/><circle cx="183.0" cy="280.4" r="0.6"/><circle cx="178.0" cy="299.3" r="0.6"/><circle cx="167.7" cy="281.6" r="0.8"/><circle cx="192.3" cy="287.0" r="0.9"/><circle cx="180.5" cy="282.3" r="0.5"/><circle cx="187.6" cy="298.7" r="0.65"/><circle cx="175.2" cy="293.0" r="0.8"/><circle cx="175.8" cy="285.4" r="0.65"/><circle cx="174.1" cy="276.8" r="0.65"/><circle cx="170.4" cy="277.0" r="0.9"/><circle cx="184.8" cy="286.0" r="0.8"/><circle cx="174.5" cy="279.6" r="0.9"/><circle cx="181.0" cy="278.8" r="0.65"/><circle cx="170.3" cy="289.2" r="0.9"/><circle cx="188.1" cy="288.2" r="0.5"/><circle cx="190.7" cy="272.3" r="0.9"/><circle cx="177.9" cy="287.0" r="0.5"/><circle cx="170.0" cy="292.1" r="0.6"/><circle cx="170.2" cy="280.2" r="0.6"/><circle cx="175.0" cy="298.1" r="0.65"/><circle cx="180.4" cy="275.0" r="0.8"/><circle cx="194.4" cy="278.1" r="0.9"/><circle cx="186.9" cy="291.3" r="0.7"/><circle cx="197.6" cy="284.1" r="0.7"/><circle cx="183.7" cy="296.4" r="0.8"/><circle cx="177.1" cy="277.3" r="0.65"/><circle cx="180.6" cy="300.3" r="0.5"/><circle cx="195.1" cy="289.4" r="0.6"/><circle cx="173.7" cy="295.3" r="0.7"/><circle cx="173.6" cy="274.3" r="0.6"/><circle cx="178.9" cy="289.8" r="0.8"/><circle cx="189.5" cy="274.7" r="0.9"/><circle cx="188.8" cy="279.8" r="0.5"/><circle cx="185.1" cy="298.9" r="0.5"/><circle cx="177.2" cy="295.9" r="0.5"/><circle cx="172.6" cy="292.2" r="0.5"/></g><circle cx="225.8" cy="285.8" r="20.8" fill="#f8f8f8" stroke="#b4b4b4" stroke-width="0.8"/><circle cx="225.8" cy="286.1" r="18.9" fill="#e2e2e2" stroke="#fcfcfc" stroke-width="0.8"/><circle cx="225.8" cy="285.2" r="17.4" fill="url(#dg04)" stroke="#8c8c8c" stroke-width="0.5"/><g fill="#3a3a3a"><circle cx="218.1" cy="281.7" r="0.5"/><circle cx="214.7" cy="283.6" r="0.8"/><circle cx="218.6" cy="289.6" r="0.5"/><circle cx="232.0" cy="292.1" r="0.7"/><circle cx="228.7" cy="279.8" r="0.6"/><circle cx="239.4" cy="286.4" r="0.6"/><circle cx="223.1" cy="275.3" r="0.6"/><circle cx="231.2" cy="287.5" r="0.5"/><circle cx="221.8" cy="278.3" r="0.5"/><circle cx="231.5" cy="271.3" r="0.5"/><circle cx="238.8" cy="290.0" r="0.8"/><circle cx="235.0" cy="277.8" r="0.8"/><circle cx="215.3" cy="279.6" r="0.9"/><circle cx="226.0" cy="285.5" r="0.6"/></g><circle cx="52.0" cy="330.6" r="20.8" fill="#f8f8f8" stroke="#b4b4b4" stroke-width="0.8"/><circle cx="52.0" cy="330.9" r="18.9" fill="#e2e2e2" stroke="#fcfcfc" stroke-width="0.8"/><circle cx="52.0" cy="330.0" r="17.4" fill="url(#dg10)" stroke="#8c8c8c" stroke-width="0.5"/><g fill="#1e1e1e"><circle cx="56.3" cy="335.3" r="0.65"/><circle cx="43.5" cy="323.2" r="0.8"/><circle cx="43.3" cy="319.3" r="0.6"/><circle cx="51.0" cy="333.2" r="0.7"/><circle cx="62.4" cy="321.3" r="0.9"/><circle cx="51.7" cy="328.8" r="0.8"/><circle cx="59.4" cy="319.0" r="0.9"/><circle cx="39.1" cy="332.9" r="0.65"/><circle cx="45.0" cy="332.1" r="0.6"/><circle cx="60.6" cy="332.1" r="0.7"/><circle cx="52.0" cy="317.2" r="0.7"/><circle cx="50.9" cy="341.3" r="0.9"/><circle cx="39.5" cy="335.3" r="0.65"/><circle cx="44.2" cy="328.9" r="0.8"/><circle cx="55.0" cy="344.0" r="0.6"/><circle cx="64.4" cy="325.5" r="0.6"/><circle cx="45.3" cy="342.7" r="0.65"/><circle cx="48.5" cy="336.6" r="0.7"/><circle cx="47.6" cy="318.3" r="0.9"/><circle cx="62.4" cy="328.6" r="0.9"/><circle cx="58.3" cy="322.1" r="0.6"/><circle cx="48.9" cy="327.0" r="0.8"/><circle cx="56.9" cy="326.9" r="0.6"/><circle cx="56.9" cy="330.8" r="0.65"/><circle cx="60.1" cy="326.1" r="0.65"/><circle cx="53.6" cy="332.0" r="0.9"/><circle cx="64.3" cy="333.3" r="0.8"/><circle cx="51.7" cy="326.1" r="0.6"/><circle cx="57.7" cy="317.4" r="0.9"/><circle cx="53.4" cy="334.9" r="0.6"/><circle cx="62.9" cy="337.7" r="0.6"/><circle cx="54.4" cy="338.3" r="0.9"/><circle cx="50.0" cy="331.0" r="0.65"/><circle cx="51.7" cy="338.1" r="0.8"/><circle cx="50.0" cy="320.9" r="0.8"/><circle cx="37.9" cy="329.7" r="0.65"/><circle cx="43.4" cy="335.3" r="0.6"/><circle cx="53.3" cy="321.1" r="0.6"/><circle cx="41.3" cy="330.6" r="0.65"/><circle cx="53.9" cy="323.7" r="0.6"/><circle cx="46.9" cy="330.1" r="0.65"/><circle cx="55.0" cy="317.6" r="0.9"/><circle cx="46.0" cy="337.6" r="0.5"/><circle cx="40.6" cy="338.9" r="0.6"/><circle cx="50.8" cy="344.5" r="0.9"/><circle cx="46.5" cy="322.8" r="0.5"/></g><circle cx="95.3" cy="330.6" r="20.8" fill="#f8f8f8" stroke="#b4b4b4" stroke-width="0.8"/><circle cx="95.3" cy="330.9" r="18.9" fill="#e2e2e2" stroke="#fcfcfc" stroke-width="0.8"/><circle cx="95.3" cy="330.0" r="17.4" fill="url(#dg11)" stroke="#8c8c8c" stroke-width="0.5"/><g fill="#1e1e1e"><circle cx="97.3" cy="335.6" r="0.9"/><circle cx="100.3" cy="336.8" r="0.65"/><circle cx="93.0" cy="337.7" r="0.65"/><circle cx="106.6" cy="339.3" r="0.6"/><circle cx="92.5" cy="344.1" r="0.9"/><circle cx="93.6" cy="330.4" r="0.65"/><circle cx="101.5" cy="322.0" r="0.65"/><circle cx="97.9" cy="344.9" r="0.7"/><circle cx="94.7" cy="343.1" r="0.7"/><circle cx="102.8" cy="330.3" r="0.7"/><circle cx="103.0" cy="319.8" r="0.8"/><circle cx="84.8" cy="323.6" r="0.9"/><circle cx="87.1" cy="318.3" r="0.5"/><circle cx="87.9" cy="320.9" r="0.9"/><circle cx="101.2" cy="325.4" r="0.65"/><circle cx="84.8" cy="337.6" r="0.6"/><circle cx="103.1" cy="341.7" r="0.65"/><circle cx="109.2" cy="330.9" r="0.7"/><circle cx="99.5" cy="327.3" r="0.5"/><circle cx="95.2" cy="337.1" r="0.5"/><circle cx="92.2" cy="315.4" r="0.8"/><circle cx="98.1" cy="338.6" r="0.65"/><circle cx="89.2" cy="336.5" r="0.6"/><circle cx="94.8" cy="319.7" r="0.8"/><circle cx="80.6" cy="328.7" r="0.65"/><circle cx="90.3" cy="324.2" r="0.9"/><circle cx="92.5" cy="332.6" r="0.8"/><circle cx="108.3" cy="336.7" r="0.5"/><circle cx="90.9" cy="327.6" r="0.9"/><circle cx="109.7" cy="325.7" r="0.5"/><circle cx="89.3" cy="331.5" r="0.6"/><circle cx="97.3" cy="323.6" r="0.5"/><circle cx="98.1" cy="320.6" r="0.9"/><circle cx="82.0" cy="332.6" r="0.65"/><circle cx="89.5" cy="316.0" r="0.65"/><circle cx="90.7" cy="320.4" r="0.8"/></g><circle cx="138.6" cy="330.6" r="20.8" fill="#f8f8f8" stroke="#b4b4b4" stroke-width="0.8"/><circle cx="138.6" cy="330.9" r="18.9" fill="#e2e2e2" stroke="#fcfcfc" stroke-width="0.8"/><circle cx="138.6" cy="330.0" r="17.4" fill="url(#dg12)" stroke="#8c8c8c" stroke-width="0.5"/><g fill="#1e1e1e"><circle cx="143.2" cy="333.4" r="0.5"/><circle cx="140.0" cy="343.4" r="0.6"/><circle cx="135.2" cy="334.9" r="0.5"/><circle cx="149.8" cy="322.3" r="0.6"/><circle cx="145.7" cy="342.6" r="0.7"/><circle cx="128.1" cy="321.5" r="0.5"/><circle cx="131.5" cy="317.4" r="0.65"/><circle cx="141.9" cy="316.4" r="0.9"/><circle cx="142.7" cy="342.0" r="0.8"/><circle cx="125.7" cy="327.5" r="0.6"/><circle cx="125.3" cy="335.4" r="0.7"/><circle cx="131.2" cy="327.3" r="0.9"/><circle cx="139.2" cy="335.7" r="0.9"/><circle cx="134.9" cy="330.2" r="0.6"/><circle cx="127.8" cy="330.6" r="0.5"/><circle cx="152.6" cy="330.6" r="0.65"/><circle cx="131.6" cy="337.0" r="0.9"/><circle cx="142.7" cy="329.0" r="0.9"/><circle cx="130.6" cy="320.7" r="0.9"/><circle cx="150.4" cy="332.1" r="0.6"/><circle cx="131.3" cy="343.3" r="0.9"/><circle cx="136.2" cy="318.1" r="0.5"/><circle cx="141.1" cy="339.8" r="0.65"/><circle cx="128.5" cy="335.3" r="0.9"/><circle cx="142.4" cy="322.7" r="0.8"/><circle cx="130.6" cy="329.8" r="0.9"/><circle cx="123.5" cy="329.4" r="0.7"/><circle cx="134.4" cy="337.5" r="0.7"/><circle cx="135.0" cy="341.2" r="0.9"/><circle cx="147.1" cy="322.6" r="0.65"/><circle cx="146.6" cy="332.6" r="0.5"/><circle cx="145.3" cy="330.3" r="0.9"/><circle cx="135.6" cy="323.6" r="0.5"/><circle cx="133.4" cy="321.0" r="0.5"/><circle cx="139.0" cy="325.1" r="0.5"/><circle cx="139.8" cy="332.7" r="0.5"/><circle cx="144.6" cy="317.8" r="0.9"/><circle cx="129.3" cy="318.5" r="0.9"/><circle cx="147.5" cy="325.0" r="0.8"/><circle cx="149.1" cy="328.7" r="0.5"/><circle cx="134.4" cy="332.6" r="0.7"/><circle cx="149.5" cy="340.4" r="0.65"/></g><circle cx="182.6" cy="330.6" r="20.8" fill="#f8f8f8" stroke="#b4b4b4" stroke-width="0.8"/><circle cx="182.6" cy="330.9" r="18.9" fill="#e2e2e2" stroke="#fcfcfc" stroke-width="0.8"/><circle cx="182.6" cy="330.0" r="17.4" fill="url(#dg13)" stroke="#8c8c8c" stroke-width="0.5"/><g fill="#1e1e1e"><circle cx="178.1" cy="341.0" r="0.8"/><circle cx="196.1" cy="326.3" r="0.7"/><circle cx="175.9" cy="324.6" r="0.5"/><circle cx="176.5" cy="331.2" r="0.65"/><circle cx="187.7" cy="328.9" r="0.6"/><circle cx="186.0" cy="320.0" r="0.6"/><circle cx="180.8" cy="343.2" r="0.65"/><circle cx="178.5" cy="337.0" r="0.8"/><circle cx="173.7" cy="321.4" r="0.65"/><circle cx="191.5" cy="320.5" r="0.7"/><circle cx="188.4" cy="319.8" r="0.65"/><circle cx="190.1" cy="328.9" r="0.65"/><circle cx="175.5" cy="336.1" r="0.6"/><circle cx="183.6" cy="322.7" r="0.65"/><circle cx="170.5" cy="333.8" r="0.5"/><circle cx="190.7" cy="342.3" r="0.5"/><circle cx="183.7" cy="316.5" r="0.6"/><circle cx="181.2" cy="335.6" r="0.8"/><circle cx="194.4" cy="320.3" r="0.5"/><circle cx="171.6" cy="327.6" r="0.8"/><circle cx="173.2" cy="330.9" r="0.65"/><circle cx="191.6" cy="333.4" r="0.7"/><circle cx="178.8" cy="315.8" r="0.9"/><circle cx="181.3" cy="329.2" r="0.5"/><circle cx="174.9" cy="329.0" r="0.8"/><circle cx="186.9" cy="322.5" r="0.7"/><circle cx="183.7" cy="334.5" r="0.7"/><circle cx="182.9" cy="344.7" r="0.65"/><circle cx="168.4" cy="330.6" r="0.9"/><circle cx="178.9" cy="327.1" r="0.5"/><circle cx="186.6" cy="343.7" r="0.8"/><circle cx="185.4" cy="330.5" r="0.6"/><circle cx="173.8" cy="339.4" r="0.9"/><circle cx="173.2" cy="318.7" r="0.9"/><circle cx="181.4" cy="325.6" r="0.6"/><circle cx="195.0" cy="337.9" r="0.7"/><circle cx="189.4" cy="326.2" r="0.65"/><circle cx="183.4" cy="319.4" r="0.9"/><circle cx="189.5" cy="335.1" r="0.65"/><circle cx="187.8" cy="316.3" r="0.6"/><circle cx="190.8" cy="323.4" r="0.9"/><circle cx="194.3" cy="322.9" r="0.6"/><circle cx="193.2" cy="335.7" r="0.8"/><circle cx="176.0" cy="333.7" r="0.8"/><circle cx="194.0" cy="331.8" r="0.65"/><circle cx="188.9" cy="339.0" r="0.8"/><circle cx="192.8" cy="324.8" r="0.5"/><circle cx="185.3" cy="325.5" r="0.9"/><circle cx="183.1" cy="337.4" r="0.9"/><circle cx="176.1" cy="322.2" r="0.7"/><circle cx="180.6" cy="332.4" r="0.65"/><circle cx="181.0" cy="316.7" r="0.9"/><circle cx="176.8" cy="319.4" r="0.9"/><circle cx="185.6" cy="337.9" r="0.9"/><circle cx="168.7" cy="328.3" r="0.9"/><circle cx="178.7" cy="323.4" r="0.6"/><circle cx="168.6" cy="324.1" r="0.7"/><circle cx="197.2" cy="331.8" r="0.5"/><circle cx="181.1" cy="340.3" r="0.5"/><circle cx="171.1" cy="323.1" r="0.7"/><circle cx="186.7" cy="333.4" r="0.8"/><circle cx="170.7" cy="339.0" r="0.8"/><circle cx="184.1" cy="339.8" r="0.5"/><circle cx="197.6" cy="328.1" r="0.7"/><circle cx="183.6" cy="327.3" r="0.7"/><circle cx="187.6" cy="331.3" r="0.8"/><circle cx="196.5" cy="335.5" r="0.6"/><circle cx="186.8" cy="340.5" r="0.7"/></g><circle cx="225.8" cy="330.6" r="20.8" fill="#f8f8f8" stroke="#b4b4b4" stroke-width="0.8"/><circle cx="225.8" cy="330.9" r="18.9" fill="#e2e2e2" stroke="#fcfcfc" stroke-width="0.8"/><circle cx="225.8" cy="330.0" r="17.4" fill="url(#dg14)" stroke="#8c8c8c" stroke-width="0.5"/><g fill="#3a3a3a"><circle cx="230.6" cy="323.5" r="0.65"/><circle cx="222.1" cy="326.5" r="0.8"/><circle cx="233.4" cy="319.8" r="0.7"/><circle cx="223.6" cy="338.8" r="0.65"/><circle cx="219.1" cy="338.9" r="0.8"/><circle cx="215.6" cy="323.0" r="0.65"/><circle cx="239.0" cy="330.6" r="0.8"/><circle cx="235.2" cy="329.4" r="0.8"/><circle cx="229.1" cy="320.5" r="0.7"/><circle cx="220.5" cy="335.1" r="0.8"/><circle cx="237.5" cy="327.7" r="0.8"/><circle cx="226.2" cy="338.7" r="0.9"/><circle cx="240.0" cy="327.5" r="0.9"/><circle cx="228.2" cy="329.3" r="0.7"/></g><circle cx="52.0" cy="374.8" r="20.8" fill="#f8f8f8" stroke="#b4b4b4" stroke-width="0.8"/><circle cx="52.0" cy="375.1" r="18.9" fill="#e2e2e2" stroke="#fcfcfc" stroke-width="0.8"/><circle cx="52.0" cy="374.2" r="17.4" fill="url(#dg20)" stroke="#8c8c8c" stroke-width="0.5"/><g fill="#1e1e1e"><circle cx="45.0" cy="380.1" r="0.8"/><circle cx="44.5" cy="369.1" r="0.6"/><circle cx="63.9" cy="370.2" r="0.65"/><circle cx="47.2" cy="373.4" r="0.7"/><circle cx="41.3" cy="369.8" r="0.8"/><circle cx="62.9" cy="363.9" r="0.6"/><circle cx="41.9" cy="375.0" r="0.6"/><circle cx="41.2" cy="363.4" r="0.7"/><circle cx="45.8" cy="383.5" r="0.9"/><circle cx="54.5" cy="368.4" r="0.6"/><circle cx="45.7" cy="388.0" r="0.9"/><circle cx="57.0" cy="364.5" r="0.65"/><circle cx="63.1" cy="383.5" r="0.8"/><circle cx="46.9" cy="361.3" r="0.7"/><circle cx="66.4" cy="373.3" r="0.8"/><circle cx="46.7" cy="377.1" r="0.65"/><circle cx="49.3" cy="384.8" r="0.8"/><circle cx="57.0" cy="385.3" r="0.6"/><circle cx="61.5" cy="376.8" r="0.7"/><circle cx="54.0" cy="366.0" r="0.8"/><circle cx="51.7" cy="373.3" r="0.8"/><circle cx="44.5" cy="371.6" r="0.6"/><circle cx="45.3" cy="365.3" r="0.6"/><circle cx="63.6" cy="374.0" r="0.5"/><circle cx="59.4" cy="385.3" r="0.9"/><circle cx="55.8" cy="377.2" r="0.8"/><circle cx="53.3" cy="370.6" r="0.5"/><circle cx="48.2" cy="379.2" r="0.8"/><circle cx="51.5" cy="379.0" r="0.65"/><circle cx="61.6" cy="367.6" r="0.9"/><circle cx="49.3" cy="376.6" r="0.7"/><circle cx="61.8" cy="371.7" r="0.5"/><circle cx="66.2" cy="378.2" r="0.9"/><circle cx="57.2" cy="367.4" r="0.9"/><circle cx="59.2" cy="371.9" r="0.8"/><circle cx="42.0" cy="382.5" r="0.6"/><circle cx="53.5" cy="382.6" r="0.65"/><circle cx="56.2" cy="382.3" r="0.5"/><circle cx="57.9" cy="388.1" r="0.7"/><circle cx="60.4" cy="381.6" r="0.9"/><circle cx="50.4" cy="381.5" r="0.5"/><circle cx="64.2" cy="376.9" r="0.9"/><circle cx="50.7" cy="369.7" r="0.6"/><circle cx="50.3" cy="388.1" r="0.6"/><circle cx="59.1" cy="362.4" r="0.65"/><circle cx="50.4" cy="364.9" r="0.6"/></g><circle cx="95.3" cy="374.8" r="20.8" fill="#f8f8f8" stroke="#b4b4b4" stroke-width="0.8"/><circle cx="95.3" cy="375.1" r="18.9" fill="#e2e2e2" stroke="#fcfcfc" stroke-width="0.8"/><circle cx="95.3" cy="374.2" r="17.4" fill="url(#dg21)" stroke="#8c8c8c" stroke-width="0.5"/><g fill="#1e1e1e"><circle cx="92.7" cy="369.9" r="0.9"/><circle cx="86.8" cy="370.7" r="0.65"/><circle cx="87.0" cy="374.2" r="0.7"/><circle cx="103.1" cy="377.6" r="0.5"/><circle cx="96.1" cy="379.6" r="0.6"/><circle cx="93.6" cy="366.2" r="0.65"/><circle cx="83.3" cy="382.5" r="0.7"/><circle cx="97.5" cy="360.0" r="0.7"/><circle cx="98.9" cy="369.9" r="0.8"/><circle cx="94.9" cy="376.8" r="0.65"/><circle cx="90.0" cy="362.9" r="0.65"/><circle cx="89.5" cy="382.1" r="0.6"/><circle cx="95.4" cy="388.3" r="0.8"/><circle cx="88.0" cy="383.9" r="0.5"/><circle cx="106.5" cy="367.4" r="0.5"/><circle cx="94.6" cy="371.2" r="0.5"/><circle cx="101.3" cy="375.7" r="0.7"/><circle cx="98.0" cy="382.2" r="0.7"/><circle cx="90.7" cy="385.5" r="0.5"/><circle cx="101.3" cy="386.9" r="0.9"/><circle cx="83.6" cy="368.7" r="0.9"/><circle cx="95.0" cy="384.3" r="0.65"/><circle cx="109.3" cy="374.3" r="0.9"/><circle cx="96.7" cy="366.1" r="0.8"/><circle cx="108.9" cy="378.0" r="0.65"/><circle cx="106.2" cy="380.8" r="0.5"/><circle cx="99.2" cy="367.1" r="0.9"/><circle cx="101.1" cy="363.6" r="0.7"/><circle cx="91.9" cy="375.2" r="0.7"/><circle cx="80.6" cy="373.1" r="0.7"/><circle cx="104.6" cy="383.8" r="0.6"/><circle cx="80.9" cy="369.9" r="0.8"/><circle cx="88.0" cy="365.6" r="0.65"/><circle cx="91.7" cy="367.7" r="0.5"/><circle cx="81.4" cy="379.2" r="0.65"/><circle cx="94.0" cy="380.9" r="0.5"/></g><circle cx="138.6" cy="374.8" r="20.8" fill="#f8f8f8" stroke="#b4b4b4" stroke-width="0.8"/><circle cx="138.6" cy="375.1" r="18.9" fill="#e2e2e2" stroke="#fcfcfc" stroke-width="0.8"/><circle cx="138.6" cy="374.2" r="17.4" fill="url(#dg22)" stroke="#8c8c8c" stroke-width="0.5"/><g fill="#1e1e1e"><circle cx="131.1" cy="364.6" r="0.8"/><circle cx="150.0" cy="369.3" r="0.6"/><circle cx="138.5" cy="381.8" r="0.7"/><circle cx="140.2" cy="376.1" r="0.65"/><circle cx="140.7" cy="360.3" r="0.5"/><circle cx="144.2" cy="371.4" r="0.9"/><circle cx="138.2" cy="365.5" r="0.6"/><circle cx="144.2" cy="386.9" r="0.7"/><circle cx="134.6" cy="382.6" r="0.5"/><circle cx="129.8" cy="371.3" r="0.8"/><circle cx="142.3" cy="367.7" r="0.6"/><circle cx="149.7" cy="377.2" r="0.8"/><circle cx="134.6" cy="360.2" r="0.5"/><circle cx="132.5" cy="374.2" r="0.9"/><circle cx="135.0" cy="385.3" r="0.65"/><circle cx="149.7" cy="380.3" r="0.6"/><circle cx="143.9" cy="382.9" r="0.65"/><circle cx="152.6" cy="374.4" r="0.9"/><circle cx="146.9" cy="363.5" r="0.65"/><circle cx="131.3" cy="377.9" r="0.9"/><circle cx="127.0" cy="378.9" r="0.9"/><circle cx="145.3" cy="361.3" r="0.5"/><circle cx="134.7" cy="379.7" r="0.65"/><circle cx="146.1" cy="378.6" r="0.5"/><circle cx="124.0" cy="377.9" r="0.6"/><circle cx="150.6" cy="366.5" r="0.65"/><circle cx="153.4" cy="371.8" r="0.8"/><circle cx="128.5" cy="364.8" r="0.9"/><circle cx="132.1" cy="368.9" r="0.8"/><circle cx="125.1" cy="367.7" r="0.65"/><circle cx="126.4" cy="375.7" r="0.9"/><circle cx="140.5" cy="372.5" r="0.7"/><circle cx="134.4" cy="375.7" r="0.5"/><circle cx="133.6" cy="366.3" r="0.8"/><circle cx="127.3" cy="372.0" r="0.65"/><circle cx="138.5" cy="384.9" r="0.5"/><circle cx="134.0" cy="371.9" r="0.65"/><circle cx="146.0" cy="365.6" r="0.8"/><circle cx="150.0" cy="384.2" r="0.65"/><circle cx="137.7" cy="369.4" r="0.8"/><circle cx="147.4" cy="384.4" r="0.5"/><circle cx="137.3" cy="375.6" r="0.5"/></g><circle cx="182.6" cy="374.8" r="20.8" fill="#f8f8f8" stroke="#b4b4b4" stroke-width="0.8"/><circle cx="182.6" cy="375.1" r="18.9" fill="#e2e2e2" stroke="#fcfcfc" stroke-width="0.8"/><circle cx="182.6" cy="374.2" r="17.4" fill="url(#dg23)" stroke="#8c8c8c" stroke-width="0.5"/><g fill="#1e1e1e"><circle cx="193.8" cy="368.5" r="0.8"/><circle cx="182.4" cy="380.9" r="0.7"/><circle cx="169.4" cy="378.8" r="0.8"/><circle cx="178.1" cy="371.7" r="0.7"/><circle cx="187.6" cy="374.9" r="0.9"/><circle cx="184.7" cy="367.9" r="0.5"/><circle cx="174.8" cy="371.4" r="0.65"/><circle cx="179.0" cy="365.5" r="0.65"/><circle cx="191.4" cy="385.5" r="0.6"/><circle cx="170.3" cy="371.2" r="0.7"/><circle cx="187.9" cy="360.3" r="0.7"/><circle cx="191.5" cy="375.0" r="0.8"/><circle cx="188.9" cy="383.0" r="0.65"/><circle cx="192.2" cy="364.4" r="0.65"/><circle cx="187.8" cy="362.7" r="0.6"/><circle cx="174.4" cy="380.8" r="0.6"/><circle cx="171.4" cy="383.1" r="0.5"/><circle cx="179.2" cy="380.5" r="0.6"/><circle cx="191.8" cy="366.9" r="0.8"/><circle cx="181.9" cy="375.1" r="0.9"/><circle cx="174.8" cy="374.2" r="0.65"/><circle cx="172.5" cy="369.5" r="0.7"/><circle cx="197.3" cy="370.1" r="0.9"/><circle cx="193.8" cy="376.6" r="0.7"/><circle cx="184.5" cy="360.0" r="0.9"/><circle cx="176.5" cy="367.3" r="0.8"/><circle cx="179.9" cy="387.6" r="0.6"/><circle cx="170.4" cy="373.5" r="0.65"/><circle cx="175.9" cy="383.4" r="0.65"/><circle cx="179.5" cy="376.3" r="0.6"/><circle cx="183.5" cy="383.2" r="0.7"/><circle cx="171.7" cy="378.1" r="0.9"/><circle cx="190.3" cy="377.6" r="0.8"/><circle cx="177.9" cy="386.4" r="0.9"/><circle cx="168.5" cy="369.5" r="0.5"/><circle cx="174.7" cy="386.6" r="0.9"/><circle cx="184.1" cy="364.3" r="0.65"/><circle cx="185.3" cy="371.3" r="0.5"/><circle cx="168.2" cy="375.6" r="0.8"/><circle cx="186.2" cy="385.5" r="0.5"/><circle cx="194.1" cy="371.5" r="0.7"/><circle cx="194.7" cy="380.8" r="0.8"/><circle cx="188.9" cy="367.9" r="0.65"/><circle cx="186.9" cy="379.2" r="0.5"/><circle cx="173.2" cy="362.9" r="0.65"/><circle cx="182.5" cy="361.9" r="0.6"/><circle cx="197.3" cy="375.5" r="0.7"/><circle cx="176.1" cy="364.3" r="0.65"/><circle cx="180.6" cy="385.1" r="0.6"/><circle cx="187.8" cy="372.2" r="0.9"/><circle cx="184.4" cy="387.4" r="0.6"/><circle cx="184.8" cy="375.6" r="0.8"/><circle cx="188.8" cy="387.7" r="0.8"/><circle cx="182.2" cy="370.3" r="0.7"/><circle cx="195.6" cy="367.0" r="0.7"/><circle cx="175.9" cy="377.2" r="0.9"/><circle cx="180.3" cy="368.8" r="0.7"/><circle cx="189.5" cy="380.1" r="0.6"/><circle cx="181.7" cy="366.3" r="0.6"/><circle cx="196.8" cy="372.6" r="0.5"/><circle cx="178.5" cy="383.2" r="0.6"/><circle cx="192.0" cy="372.6" r="0.7"/><circle cx="193.1" cy="383.6" r="0.9"/><circle cx="173.0" cy="366.0" r="0.5"/><circle cx="180.6" cy="363.3" r="0.5"/><circle cx="169.6" cy="367.2" r="0.6"/><circle cx="183.4" cy="378.4" r="0.5"/><circle cx="182.2" cy="388.4" r="0.8"/></g><circle cx="225.8" cy="374.8" r="20.8" fill="#f8f8f8" stroke="#b4b4b4" stroke-width="0.8"/><circle cx="225.8" cy="375.1" r="18.9" fill="#e2e2e2" stroke="#fcfcfc" stroke-width="0.8"/><circle cx="225.8" cy="374.2" r="17.4" fill="url(#dg24)" stroke="#8c8c8c" stroke-width="0.5"/><g fill="#3a3a3a"><circle cx="224.0" cy="374.2" r="0.6"/><circle cx="223.4" cy="361.3" r="0.6"/><circle cx="229.5" cy="380.4" r="0.9"/><circle cx="229.4" cy="363.6" r="0.6"/><circle cx="233.1" cy="385.5" r="0.7"/><circle cx="219.1" cy="375.7" r="0.5"/><circle cx="228.7" cy="376.1" r="0.65"/><circle cx="228.1" cy="388.0" r="0.7"/><circle cx="223.0" cy="364.4" r="0.6"/><circle cx="213.1" cy="380.7" r="0.9"/><circle cx="230.8" cy="371.6" r="0.65"/><circle cx="231.3" cy="382.8" r="0.6"/><circle cx="226.5" cy="359.9" r="0.9"/><circle cx="225.2" cy="385.5" r="0.8"/></g><circle cx="52.0" cy="419.4" r="20.8" fill="#f8f8f8" stroke="#b4b4b4" stroke-width="0.8"/><circle cx="52.0" cy="419.7" r="18.9" fill="#e2e2e2" stroke="#fcfcfc" stroke-width="0.8"/><circle cx="52.0" cy="418.8" r="17.4" fill="url(#dg30)" stroke="#8c8c8c" stroke-width="0.5"/><g fill="#1e1e1e"><circle cx="49.7" cy="412.4" r="0.9"/><circle cx="55.9" cy="424.1" r="0.8"/><circle cx="47.2" cy="427.2" r="0.8"/><circle cx="60.8" cy="421.0" r="0.9"/><circle cx="45.8" cy="409.6" r="0.9"/><circle cx="61.6" cy="423.5" r="0.5"/><circle cx="65.4" cy="420.3" r="0.5"/><circle cx="63.2" cy="409.4" r="0.65"/><circle cx="54.5" cy="426.5" r="0.6"/><circle cx="48.2" cy="429.9" r="0.6"/><circle cx="52.3" cy="411.9" r="0.6"/><circle cx="38.8" cy="421.3" r="0.8"/><circle cx="53.4" cy="404.3" r="0.7"/><circle cx="44.6" cy="414.8" r="0.8"/><circle cx="47.7" cy="416.5" r="0.6"/><circle cx="58.7" cy="418.9" r="0.7"/><circle cx="43.3" cy="419.8" r="0.8"/><circle cx="48.7" cy="422.6" r="0.9"/><circle cx="58.8" cy="406.8" r="0.9"/><circle cx="50.3" cy="408.6" r="0.5"/><circle cx="57.1" cy="426.9" r="0.7"/><circle cx="55.0" cy="419.5" r="0.9"/><circle cx="54.2" cy="415.2" r="0.7"/><circle cx="50.2" cy="405.8" r="0.9"/><circle cx="44.1" cy="428.4" r="0.9"/><circle cx="43.4" cy="407.8" r="0.65"/><circle cx="49.4" cy="426.2" r="0.7"/><circle cx="52.3" cy="430.3" r="0.7"/><circle cx="59.7" cy="416.3" r="0.5"/><circle cx="37.7" cy="413.6" r="0.6"/><circle cx="44.7" cy="417.2" r="0.9"/><circle cx="56.1" cy="421.6" r="0.9"/><circle cx="64.8" cy="423.3" r="0.65"/><circle cx="51.8" cy="414.3" r="0.9"/><circle cx="58.7" cy="431.1" r="0.8"/><circle cx="62.0" cy="418.7" r="0.7"/><circle cx="38.2" cy="417.7" r="0.65"/><circle cx="54.9" cy="431.9" r="0.5"/><circle cx="63.5" cy="425.5" r="0.65"/><circle cx="45.9" cy="432.3" r="0.7"/><circle cx="56.0" cy="406.0" r="0.8"/><circle cx="47.0" cy="406.9" r="0.5"/><circle cx="41.5" cy="425.3" r="0.5"/><circle cx="63.5" cy="416.7" r="0.7"/><circle cx="55.5" cy="408.7" r="0.7"/><circle cx="62.1" cy="414.6" r="0.7"/></g><circle cx="95.3" cy="419.4" r="20.8" fill="#f8f8f8" stroke="#b4b4b4" stroke-width="0.8"/><circle cx="95.3" cy="419.7" r="18.9" fill="#e2e2e2" stroke="#fcfcfc" stroke-width="0.8"/><circle cx="95.3" cy="418.8" r="17.4" fill="url(#dg31)" stroke="#8c8c8c" stroke-width="0.5"/><g fill="#1e1e1e"><circle cx="87.1" cy="412.5" r="0.65"/><circle cx="91.7" cy="424.9" r="0.7"/><circle cx="86.8" cy="430.0" r="0.65"/><circle cx="102.1" cy="423.0" r="0.9"/><circle cx="92.2" cy="409.1" r="0.6"/><circle cx="88.0" cy="407.1" r="0.65"/><circle cx="104.5" cy="427.5" r="0.65"/><circle cx="108.7" cy="422.4" r="0.7"/><circle cx="98.5" cy="426.1" r="0.6"/><circle cx="104.2" cy="416.4" r="0.8"/><circle cx="97.6" cy="433.0" r="0.65"/><circle cx="84.2" cy="409.6" r="0.7"/><circle cx="86.8" cy="425.5" r="0.7"/><circle cx="101.9" cy="418.3" r="0.5"/><circle cx="98.3" cy="413.4" r="0.9"/><circle cx="95.0" cy="418.8" r="0.65"/><circle cx="102.0" cy="432.1" r="0.65"/><circle cx="82.1" cy="422.7" r="0.7"/><circle cx="95.3" cy="427.9" r="0.65"/><circle cx="102.4" cy="410.4" r="0.7"/><circle cx="105.1" cy="411.1" r="0.7"/><circle cx="106.0" cy="424.3" r="0.65"/><circle cx="82.8" cy="417.1" r="0.5"/><circle cx="95.3" cy="415.9" r="0.6"/><circle cx="109.1" cy="414.6" r="0.8"/><circle cx="92.4" cy="417.3" r="0.7"/><circle cx="85.0" cy="427.1" r="0.8"/><circle cx="90.2" cy="412.5" r="0.7"/><circle cx="95.9" cy="410.6" r="0.9"/><circle cx="85.8" cy="416.1" r="0.6"/><circle cx="107.5" cy="417.1" r="0.65"/><circle cx="99.6" cy="407.0" r="0.5"/><circle cx="92.1" cy="406.5" r="0.6"/><circle cx="94.2" cy="424.9" r="0.65"/><circle cx="82.9" cy="412.5" r="0.8"/><circle cx="94.0" cy="422.1" r="0.7"/></g><circle cx="138.6" cy="419.4" r="20.8" fill="#f8f8f8" stroke="#b4b4b4" stroke-width="0.8"/><circle cx="138.6" cy="419.7" r="18.9" fill="#e2e2e2" stroke="#fcfcfc" stroke-width="0.8"/><circle cx="138.6" cy="418.8" r="17.4" fill="url(#dg32)" stroke="#8c8c8c" stroke-width="0.5"/><g fill="#1e1e1e"><circle cx="131.2" cy="406.8" r="0.8"/><circle cx="135.0" cy="421.0" r="0.5"/><circle cx="128.5" cy="427.0" r="0.7"/><circle cx="141.8" cy="414.5" r="0.6"/><circle cx="137.0" cy="419.3" r="0.9"/><circle cx="126.1" cy="416.2" r="0.9"/><circle cx="134.5" cy="430.0" r="0.6"/><circle cx="129.0" cy="430.5" r="0.65"/><circle cx="149.4" cy="409.4" r="0.6"/><circle cx="148.4" cy="425.6" r="0.8"/><circle cx="145.2" cy="406.5" r="0.9"/><circle cx="135.1" cy="404.5" r="0.65"/><circle cx="141.8" cy="424.4" r="0.9"/><circle cx="145.8" cy="425.4" r="0.5"/><circle cx="143.7" cy="410.6" r="0.9"/><circle cx="129.7" cy="418.8" r="0.9"/><circle cx="146.7" cy="429.1" r="0.8"/><circle cx="126.0" cy="426.4" r="0.9"/><circle cx="136.9" cy="425.7" r="0.5"/><circle cx="139.4" cy="419.1" r="0.5"/><circle cx="132.0" cy="415.5" r="0.65"/><circle cx="132.1" cy="421.7" r="0.6"/><circle cx="153.3" cy="421.9" r="0.7"/><circle cx="147.2" cy="414.8" r="0.5"/><circle cx="140.2" cy="407.0" r="0.9"/><circle cx="131.3" cy="427.7" r="0.9"/><circle cx="149.5" cy="420.4" r="0.9"/><circle cx="149.4" cy="429.2" r="0.9"/><circle cx="140.6" cy="428.9" r="0.8"/><circle cx="123.5" cy="418.5" r="0.65"/><circle cx="128.6" cy="412.5" r="0.8"/><circle cx="128.2" cy="421.0" r="0.65"/><circle cx="134.5" cy="433.0" r="0.9"/><circle cx="149.5" cy="416.3" r="0.6"/><circle cx="136.9" cy="411.8" r="0.8"/><circle cx="145.0" cy="431.0" r="0.9"/><circle cx="137.5" cy="428.1" r="0.65"/><circle cx="142.9" cy="421.5" r="0.65"/><circle cx="134.4" cy="412.4" r="0.65"/><circle cx="131.3" cy="409.8" r="0.5"/><circle cx="147.4" cy="410.6" r="0.5"/><circle cx="138.9" cy="414.6" r="0.9"/></g><circle cx="182.6" cy="419.4" r="20.8" fill="#f8f8f8" stroke="#b4b4b4" stroke-width="0.8"/><circle cx="182.6" cy="419.7" r="18.9" fill="#e2e2e2" stroke="#fcfcfc" stroke-width="0.8"/><circle cx="182.6" cy="418.8" r="17.4" fill="url(#dg33)" stroke="#8c8c8c" stroke-width="0.5"/><g fill="#1e1e1e"><circle cx="186.7" cy="426.9" r="0.9"/><circle cx="193.7" cy="410.7" r="0.9"/><circle cx="177.9" cy="420.2" r="0.5"/><circle cx="187.3" cy="422.5" r="0.8"/><circle cx="184.4" cy="408.5" r="0.65"/><circle cx="197.2" cy="417.9" r="0.6"/><circle cx="185.0" cy="413.9" r="0.6"/><circle cx="191.5" cy="426.1" r="0.5"/><circle cx="175.6" cy="418.5" r="0.6"/><circle cx="182.6" cy="421.0" r="0.8"/><circle cx="196.9" cy="413.7" r="0.65"/><circle cx="170.5" cy="423.9" r="0.8"/><circle cx="172.3" cy="428.0" r="0.7"/><circle cx="189.7" cy="419.4" r="0.7"/><circle cx="174.5" cy="414.0" r="0.8"/><circle cx="196.5" cy="422.7" r="0.8"/><circle cx="178.6" cy="417.9" r="0.9"/><circle cx="177.2" cy="429.6" r="0.7"/><circle cx="190.6" cy="411.8" r="0.6"/><circle cx="178.2" cy="413.5" r="0.65"/><circle cx="183.2" cy="433.3" r="0.6"/><circle cx="172.1" cy="412.6" r="0.8"/><circle cx="179.9" cy="409.0" r="0.5"/><circle cx="194.5" cy="424.2" r="0.65"/><circle cx="192.5" cy="422.3" r="0.7"/><circle cx="180.9" cy="411.5" r="0.6"/><circle cx="175.1" cy="408.5" r="0.6"/><circle cx="189.5" cy="421.7" r="0.8"/><circle cx="188.0" cy="407.9" r="0.6"/><circle cx="182.4" cy="415.8" r="0.8"/><circle cx="195.2" cy="427.2" r="0.65"/><circle cx="189.1" cy="415.8" r="0.5"/><circle cx="175.6" cy="405.8" r="0.6"/><circle cx="182.1" cy="424.8" r="0.6"/><circle cx="195.8" cy="420.3" r="0.7"/><circle cx="185.9" cy="404.8" r="0.6"/><circle cx="183.2" cy="418.4" r="0.5"/><circle cx="174.0" cy="410.7" r="0.8"/><circle cx="180.1" cy="428.1" r="0.7"/><circle cx="190.9" cy="407.4" r="0.7"/><circle cx="189.7" cy="428.3" r="0.65"/><circle cx="186.8" cy="419.0" r="0.8"/><circle cx="173.2" cy="421.5" r="0.9"/><circle cx="188.5" cy="410.7" r="0.6"/><circle cx="187.3" cy="414.3" r="0.6"/><circle cx="192.1" cy="415.2" r="0.9"/><circle cx="180.5" cy="423.0" r="0.65"/><circle cx="176.1" cy="412.2" r="0.9"/><circle cx="168.0" cy="415.3" r="0.7"/><circle cx="167.5" cy="419.4" r="0.5"/><circle cx="174.9" cy="430.5" r="0.5"/><circle cx="188.0" cy="432.3" r="0.7"/><circle cx="185.0" cy="424.1" r="0.5"/><circle cx="176.1" cy="415.7" r="0.5"/><circle cx="184.4" cy="411.3" r="0.65"/><circle cx="175.2" cy="427.0" r="0.5"/><circle cx="184.4" cy="428.1" r="0.65"/><circle cx="168.1" cy="421.7" r="0.6"/><circle cx="169.4" cy="413.3" r="0.6"/><circle cx="193.7" cy="429.2" r="0.7"/><circle cx="170.7" cy="418.9" r="0.5"/><circle cx="181.7" cy="404.7" r="0.8"/><circle cx="170.7" cy="410.4" r="0.7"/><circle cx="182.5" cy="407.1" r="0.65"/><circle cx="194.6" cy="418.2" r="0.9"/><circle cx="185.5" cy="432.5" r="0.9"/><circle cx="175.6" cy="420.8" r="0.9"/><circle cx="175.1" cy="423.7" r="0.8"/></g><circle cx="225.8" cy="419.4" r="20.8" fill="#f8f8f8" stroke="#b4b4b4" stroke-width="0.8"/><circle cx="225.8" cy="419.7" r="18.9" fill="#e2e2e2" stroke="#fcfcfc" stroke-width="0.8"/><circle cx="225.8" cy="418.8" r="17.4" fill="url(#dg34)" stroke="#8c8c8c" stroke-width="0.5"/><g fill="#3a3a3a"><circle cx="216.9" cy="413.7" r="0.6"/><circle cx="214.7" cy="418.8" r="0.7"/><circle cx="221.8" cy="410.4" r="0.5"/><circle cx="215.0" cy="423.4" r="0.6"/><circle cx="225.6" cy="428.3" r="0.8"/><circle cx="235.3" cy="407.2" r="0.7"/><circle cx="233.3" cy="416.7" r="0.7"/><circle cx="231.4" cy="407.3" r="0.6"/><circle cx="237.6" cy="423.2" r="0.9"/><circle cx="227.9" cy="427.3" r="0.6"/><circle cx="234.7" cy="413.9" r="0.65"/><circle cx="218.6" cy="430.1" r="0.9"/><circle cx="239.7" cy="414.9" r="0.9"/><circle cx="217.3" cy="420.7" r="0.65"/></g></g>
<rect x="0.5" y="0.5" width="519" height="470" fill="none" stroke="#000" stroke-width="1"/>
<rect x="1.5" y="1.5" width="517" height="468" fill="none" stroke="#000" stroke-opacity="0.35" stroke-width="1"/>
</svg>
</body></html>
